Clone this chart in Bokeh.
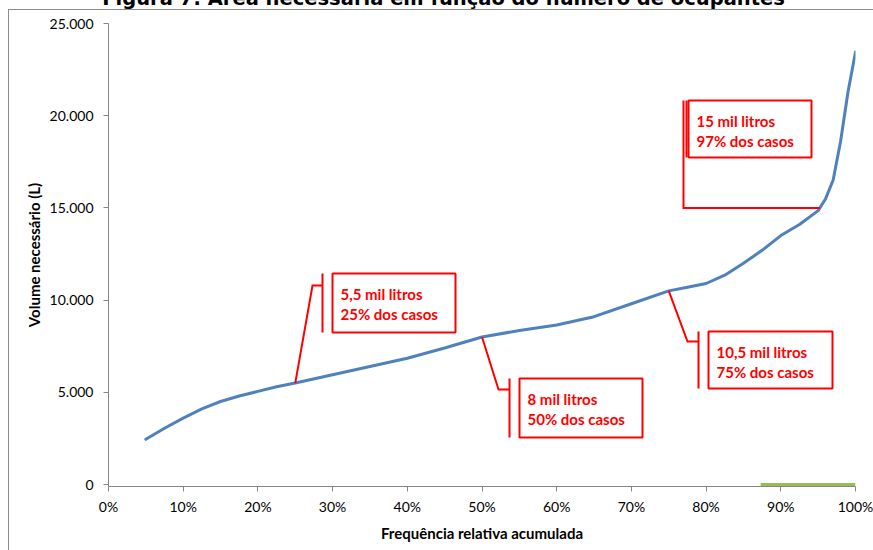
from bokeh.plotting import figure
from bokeh.models import FixedTicker, Label, Range1d
from bokeh.core.properties import value
from bokeh.embed import file_html
from bokeh.resources import INLINE
import numpy as np

# Cumulative relative frequency (%) and required storage volume (L)
freq_pct = [5, 7.5, 10, 12.5, 15, 17.5, 20, 22.5, 25, 30, 35, 40, 45, 50,
            55, 60, 65, 70, 75, 77.5, 80, 82.5, 85, 87.5, 90, 92.5, 95, 96,
            97, 98, 99, 100]
volume_l = [2450, 3050, 3600, 4100, 4500, 4800, 5050, 5300, 5500, 5950, 6400,
            6850, 7400, 8000, 8350, 8650, 9100, 9800, 10500, 10700, 10900,
            11350, 12000, 12700, 13500, 14100, 14850, 15500, 16500, 18600,
            21300, 23450]

# Second series lying on the baseline
base_pct = [87.3, 100]
base_vol = [0, 0]

x_ticks = [0, 10, 20, 30, 40, 50, 60, 70, 80, 90, 100]
x_tick_labels = ["0%", "10%", "20%", "30%", "40%", "50%", "60%", "70%", "80%", "90%", "100%"]
y_ticks = [0, 5000, 10000, 15000, 20000, 25000]
y_tick_labels = ["0", "5.000", "10.000", "15.000", "20.000", "25.000"]

# Callouts: volume level marked on the curve and their two text lines
callout_levels = [5500, 8000, 10500, 15000]
callout_line1 = ["5,5 mil litros", "8 mil litros", "10,5 mil litros", "15 mil litros"]
callout_line2 = ["25% dos casos", "50% dos casos", "75% dos casos", "97% dos casos"]

title_text = "Figura 7: Área necessária em função do número de ocupantes"

# Page geometry (pixels from the top-left corner); the plot area reaches
# a couple of pixels below the zero line so the baseline series shows whole
W, H = 873, 550
FL, FR, FT, FB = 108, 855, 23, 484
PAD = 2
X0, X1, Y0, Y1 = 0, 100, 0, 25000


def px2x(px):
    return X0 + (px - FL) / (FR - FL) * (X1 - X0)


def px2y(py):
    return Y0 + (FB - py) / (FB - FT) * (Y1 - Y0)


def y2px(y):
    return FB - (y - Y0) / (Y1 - Y0) * (FB - FT)


p = figure(width=W, height=H, output_backend="svg", toolbar_location=None,
           x_range=Range1d(X0, X1), y_range=Range1d(px2y(FB + PAD), Y1),
           frame_width=FR - FL, frame_height=FB + PAD - FT,
           min_border_left=FL, min_border_right=W - FR,
           min_border_top=FT, min_border_bottom=H - FB - PAD)
p.outline_line_color = None
p.xgrid.visible = False
p.ygrid.visible = False
p.background_fill_color = "white"
p.border_fill_color = None
# Outer chart box: left and top edges (the others fall outside the page)
p.styles = {
    "background": "linear-gradient(#8C8C8C, #8C8C8C) 8px 9px / 1px 100% no-repeat, "
                  "linear-gradient(#8C8C8C, #8C8C8C) 8px 9px / 100% 1px no-repeat, white"
}

axis_col = "#868686"
for ax in (p.xaxis, p.yaxis):
    ax.axis_line_color = axis_col
    ax.major_tick_line_color = axis_col
    ax.major_tick_in = 0
    ax.major_tick_out = 5
    ax.minor_tick_line_color = None
    ax.major_label_text_font = "Lato"
    ax.major_label_text_font_size = "14px"
    ax.major_label_text_color = "#000000"
    ax.axis_label_text_font = "Lato"
    ax.axis_label_text_font_style = "bold"
    ax.axis_label_text_font_size = "15px"
    ax.axis_label_text_color = "#000000"

p.xaxis.ticker = FixedTicker(ticks=x_ticks)
p.xaxis.major_label_overrides = {t: s for t, s in zip(x_ticks, x_tick_labels)}
p.xaxis.major_label_standoff = 6
p.xaxis.axis_label = "Frequência relativa acumulada"
p.xaxis.axis_label_standoff = 6

p.yaxis.ticker = FixedTicker(ticks=y_ticks)
p.yaxis.major_label_overrides = {t: s for t, s in zip(y_ticks, y_tick_labels)}
p.yaxis.major_label_standoff = 10
p.yaxis.axis_label = "Volume necessário (L)"
p.yaxis.axis_label_standoff = 4

# Data series
p.line(base_pct, base_vol, line_color="#9BBB59", line_width=3)
p.line(freq_pct, volume_l, line_color="#4F81BD", line_width=3,
       line_join="round", line_cap="round")

# Callout layout in pixels: box (left, top, right, bottom), leader elbow, leader end, accent bar x
callout_box = [(332, 273, 455, 332), (519, 378, 642, 437),
               (708, 331, 832, 388), (688, 100, 811, 157)]
callout_elbow = [(312, 285), (498, 389), (687, 341), (683, None)]
callout_end = [(322, 285), (509, 389), (698, 341), (683, 100)]
callout_bar = [322, 509, 698, 686]

red = "#FF0000"
for i, level in enumerate(callout_levels):
    ax_pct = float(np.interp(level, volume_l, freq_pct))
    apy = y2px(level)
    ex, ey = callout_elbow[i]
    if ey is None:
        ey = apy
    nx, ny = callout_end[i]
    p.line([ax_pct, px2x(ex), px2x(nx)], [level, px2y(ey), px2y(ny)],
           line_color=red, line_width=2, line_join="miter")
    l, t, r, b = callout_box[i]
    p.segment(x0=[px2x(callout_bar[i])], y0=[px2y(t)],
              x1=[px2x(callout_bar[i])], y1=[px2y(b)],
              line_color=red, line_width=2)
    p.quad(left=[px2x(l)], right=[px2x(r)], top=[px2y(t)], bottom=[px2y(b)],
           fill_color="white", line_color=red, line_width=2)
    p.text(x=[px2x(l + 8)] * 2, y=[px2y(t + 20), px2y(t + 40)],
           text=[callout_line1[i], callout_line2[i]],
           text_font=value("Lato"), text_font_style="bold",
           text_font_size="15px", text_color=red,
           text_baseline="alphabetic", text_align="left")

# Figure caption above the chart box, mostly beyond the top of the page
p.add_layout(Label(x=px2x(443), y=px2y(-2),
                   text=title_text, text_align="center", text_baseline="middle",
                   text_font="DejaVu Sans", text_font_style="bold",
                   text_font_size="19.5px", text_color="#000000"), "above")

open("out.html", "w").write(file_html(p, INLINE))
